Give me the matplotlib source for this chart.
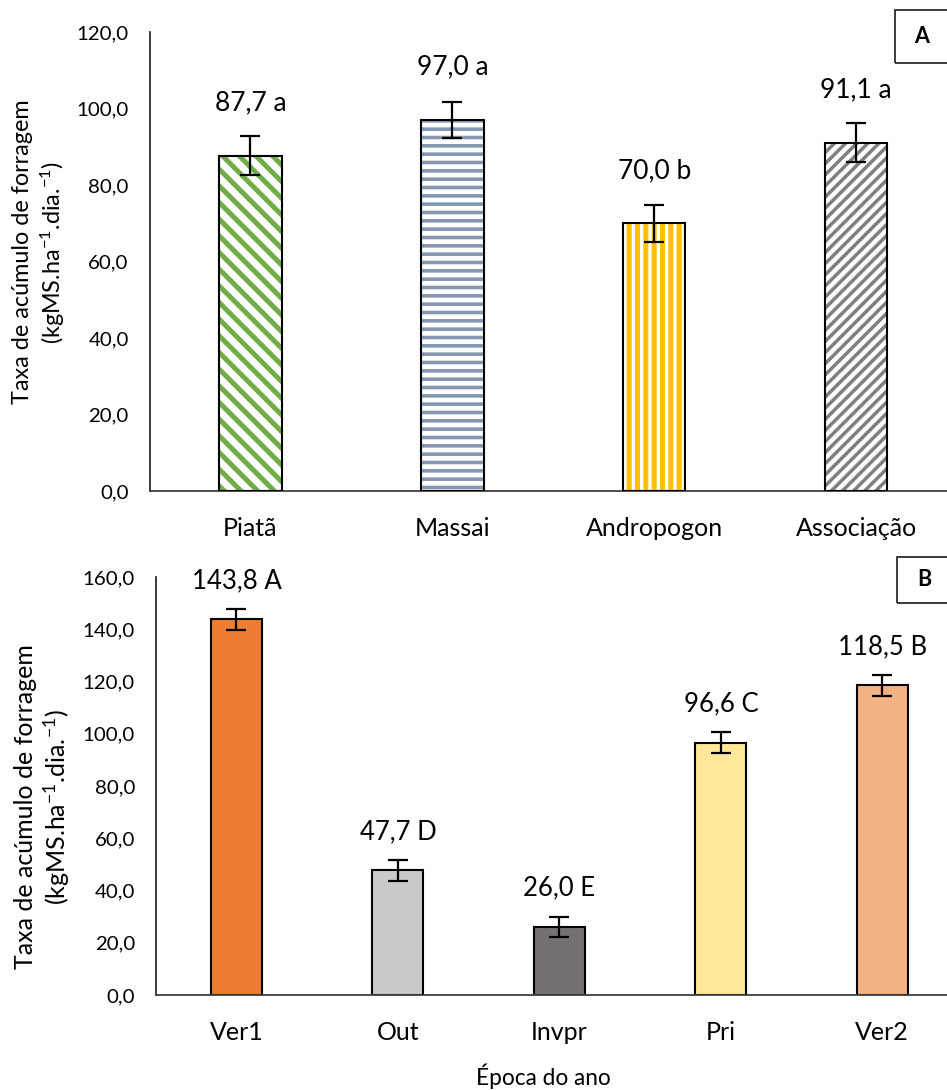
import matplotlib
matplotlib.use("Agg")
import matplotlib.pyplot as plt
from matplotlib.patches import Rectangle
import numpy as np

plt.rcParams['font.family'] = ['Lato', 'DejaVu Sans']
plt.rcParams['mathtext.fontset'] = 'custom'
plt.rcParams['mathtext.rm'] = 'Lato'
plt.rcParams['mathtext.default'] = 'regular'

# panel A: grass species
species = ['Piatã', 'Massai', 'Andropogon', 'Associação']
taxa_a = [87.7, 97.0, 70.0, 91.1]
erro_a = [5.0, 4.8, 4.9, 5.0]
letras_a = ['a', 'a', 'b', 'a']
hatch_cor = ['#70AD47', '#8497B0', '#FFC000', '#7F7F7F']
hatch_pad = ['\\\\', '--', '||', '///']
hatch_lw = [3.6, 2.6, 3.6, 2.5]

# panel B: season of the year
epocas = ['Ver1', 'Out', 'Invpr', 'Pri', 'Ver2']
taxa_b = [143.8, 47.7, 26.0, 96.6, 118.5]
erro_b = [4.0, 3.9, 3.9, 4.0, 3.9]
letras_b = ['A', 'D', 'E', 'C', 'B']
cores_b = ['#ED7D31', '#C9C9C9', '#767171', '#FFE699', '#F4B183']

W, H = 947, 1090
fig = plt.figure(figsize=(W / 100, H / 100), dpi=100)


def fmt(v):
    return f'{v:.1f}'.replace('.', ',')


def style_axis(ax, ymax, step):
    ax.set_ylim(0, ymax)
    ax.set_yticks(np.arange(0, ymax + 0.1, step))
    ax.set_yticklabels([fmt(t) for t in ax.get_yticks()])
    for s in ['top', 'right']:
        ax.spines[s].set_visible(False)
    ax.spines['left'].set_color('#1a1a1a')
    ax.spines['bottom'].set_color('#404040')
    ax.spines['left'].set_linewidth(1.2)
    ax.spines['bottom'].set_linewidth(1.3)
    ax.tick_params(axis='y', length=0, pad=15, labelsize=14.7)
    ax.tick_params(axis='x', length=0, pad=19, labelsize=18)


def ylabel(y_center, x1, x2, size):
    fig.text(x1 / W, y_center, 'Taxa de acúmulo de forragem', rotation=90,
             ha='center', va='center', fontsize=size)
    fig.text(x2 / W, y_center, '(kgMS.ha$^{-1}$.dia.$^{-1}$)', rotation=90,
             ha='center', va='center', fontsize=size)


def panel_box(x0, y0, x1, y1, letra):
    fig.patches.append(Rectangle((x0 / W, 1 - y1 / H), (x1 - x0) / W, (y1 - y0) / H,
                                 transform=fig.transFigure, fill=False,
                                 edgecolor='#1a1a1a', lw=1.2))
    fig.text((x0 + 27) / W, 1 - (y0 + y1) / 2 / H, letra, ha='center', va='center',
             fontsize=15.5, fontweight='bold')


# ---- A ----
ax1 = fig.add_axes([149.5 / W, 1 - 491 / H, (957 - 149.5) / W, (491 - 32) / H])
x = np.arange(len(species))
for i in range(len(species)):
    b = ax1.bar(x[i], taxa_a[i], width=0.31, color='white', edgecolor=hatch_cor[i],
                hatch=hatch_pad[i], linewidth=0, zorder=2)
    for p in b:
        if hasattr(p, 'set_hatch_linewidth'):
            p.set_hatch_linewidth(hatch_lw[i])
ax1.bar(x, taxa_a, width=0.31, fill=False, edgecolor='black', linewidth=1.5, zorder=3)
ax1.errorbar(x, taxa_a, yerr=erro_a, fmt='none', ecolor='black', elinewidth=1.6,
             capsize=7, capthick=1.6, zorder=4)
for i in range(len(species)):
    ax1.annotate(f'{fmt(taxa_a[i])} {letras_a[i]}', (x[i], taxa_a[i]),
                 xytext=(0, 38), textcoords='offset points', ha='center', va='center',
                 fontsize=19)
ax1.set_xlim(-0.5, len(species) - 0.5)
ax1.set_xticks(x)
ax1.set_xticklabels(species)
style_axis(ax1, 120, 20)
ylabel(1 - 252 / H, 23, 53, 16.8)
panel_box(895, 10, 960, 63, 'A')

# ---- B ----
ax2 = fig.add_axes([155.75 / W, 1 - 995 / H, (963 - 155.75) / W, (995 - 577) / H])
x = np.arange(len(epocas))
ax2.bar(x, taxa_b, width=0.315, color=cores_b, edgecolor='black', linewidth=1.5, zorder=2)
ax2.errorbar(x, taxa_b, yerr=erro_b, fmt='none', ecolor='black', elinewidth=1.6,
             capsize=7, capthick=1.6, zorder=4)
for i in range(len(epocas)):
    ax2.annotate(f'{fmt(taxa_b[i])} {letras_b[i]}', (x[i], taxa_b[i]),
                 xytext=(0, 28), textcoords='offset points', ha='center', va='center',
                 fontsize=18.5)
ax2.set_xlim(-0.5, len(epocas) - 0.5)
ax2.set_xticks(x)
ax2.set_xticklabels(epocas)
style_axis(ax2, 160, 20)
ylabel(1 - 807 / H, 26, 57, 18)
panel_box(897, 557, 960, 603, 'B')

fig.text(543 / W, 1 - 1076 / H, 'Época do ano', ha='center', va='center', fontsize=16.3)

fig.savefig('out.png', dpi=100)
